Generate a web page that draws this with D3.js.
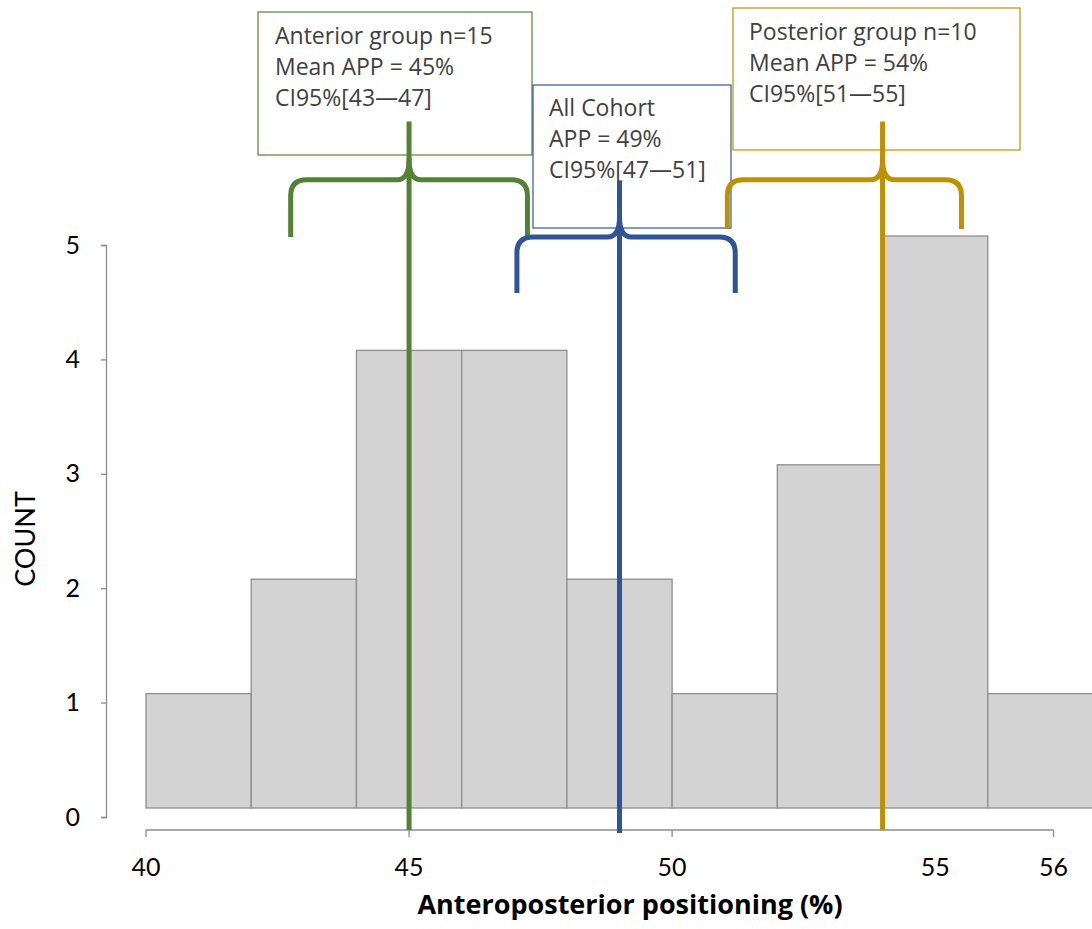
<!DOCTYPE html>
<html>
<head>
<meta charset="utf-8">
<script src="https://cdn.jsdelivr.net/npm/d3@7"></script>
<style>
    body { margin: 0; background: #fff; }
    svg { display: block; font-family: Lato, "Open Sans", sans-serif; }
</style>
</head>
<body>
<svg id="chart" width="1092" height="929"></svg>
<script>
/* --- Data --- */
const binStarts = [40, 42, 44, 46, 48, 50, 52, 54, 56];
const binWidth = 2;
const counts = [1, 2, 4, 4, 2, 1, 3, 5, 1];

const xTickValues = [40, 45, 50, 55, 57.25];
const xTickLabels = ['40', '45', '50', '55', '56'];
const xTickMarks = [40, 45, 50, 57.25];
const yTickValues = [0, 1, 2, 3, 4, 5];

const groupNames = ['anterior', 'cohort', 'posterior'];
const groupMeans = [45, 49, 54];
const braceLo = [42.75, 47.05, 51.05];
const braceHi = [47.25, 51.2, 55.5];
const braceTop = [5.57, 5.07, 5.57];
const braceEnd = [5.07, 4.58, 5.14];
const lineTop = [6.08, 5.56, 6.08];
const boxLines = [
    ['Anterior group n=15', 'Mean APP = 45%', 'CI95%[43\u201447]'],
    ['All Cohort', 'APP = 49%', 'CI95%[47\u201451]'],
    ['Posterior group n=10', 'Mean APP = 54%', 'CI95%[51\u201455]']
];

const COLORS = {
    anterior: '#548235',
    cohort: '#2f5597',
    posterior: '#bf9000',
    bar: '#d3d3d3',
    barStroke: '#8e8e8e',
    axis: '#8c8c8c',
    text: '#000',
    boxText: '#404040'
};

// box geometry (layout only)
const BOXES = [
    { x: 258, y: 12, w: 274, h: 143, tx: 275, ty: 44 },
    { x: 533, y: 85, w: 198, h: 143, tx: 549, ty: 116 },
    { x: 733, y: 8, w: 287, h: 142, tx: 749, ty: 40 }
];

/* --- Scales --- */
const svg = d3.select('#chart');
const x = d3.scaleLinear().domain([40, 58]).range([146, 1093]);
const y = d3.scaleLinear().domain([0, 5]).range([817, 245]);
const axisY = 830;

/* --- Bars (drawn slightly above the zero tick, as in the original) --- */
svg.append('g')
    .attr('transform', 'translate(0,-9)')
    .selectAll('rect')
    .data(binStarts)
    .enter().append('rect')
    .attr('x', d => x(d))
    .attr('width', d => x(d + binWidth) - x(d))
    .attr('y', (d, i) => y(counts[i]))
    .attr('height', (d, i) => y(0) - y(counts[i]))
    .attr('fill', COLORS.bar)
    .attr('stroke', COLORS.barStroke)
    .attr('stroke-width', 1.3);

/* --- Y axis --- */
const yAxis = svg.append('g')
    .attr('transform', 'translate(106,0)')
    .call(d3.axisLeft(y)
        .tickValues(yTickValues)
        .tickFormat(d3.format('d'))
        .tickSize(5).tickSizeOuter(5).tickPadding(21));
yAxis.selectAll('path, line').attr('stroke', COLORS.axis).attr('stroke-width', 1.3);
yAxis.selectAll('text')
    .attr('font-size', 25)
    .attr('font-family', 'Lato, sans-serif')
    .attr('fill', COLORS.text);

svg.append('text')
    .attr('transform', 'translate(35,539) rotate(-90)')
    .attr('text-anchor', 'middle')
    .attr('font-size', 27)
    .attr('font-family', 'Lato, sans-serif')
    .attr('fill', COLORS.text)
    .text('COUNT');

/* --- X axis --- */
const xAxis = svg.append('g')
    .attr('transform', `translate(0,${axisY})`);
xAxis.append('line')
    .attr('x1', x(40)).attr('x2', x(57.25))
    .attr('stroke', COLORS.axis).attr('stroke-width', 1.3);
xAxis.selectAll('.tick-mark')
    .data(xTickMarks)
    .enter().append('line')
    .attr('class', 'tick-mark')
    .attr('x1', d => x(d)).attr('x2', d => x(d))
    .attr('y1', 0).attr('y2', 7)
    .attr('stroke', COLORS.axis).attr('stroke-width', 1.3);
xAxis.selectAll('.tick-label')
    .data(xTickValues)
    .enter().append('text')
    .attr('class', 'tick-label')
    .attr('x', d => x(d))
    .attr('y', 46)
    .attr('text-anchor', 'middle')
    .attr('font-size', 25)
    .attr('font-family', 'Lato, sans-serif')
    .attr('fill', COLORS.text)
    .text((d, i) => xTickLabels[i]);

svg.append('text')
    .attr('x', 630)
    .attr('y', 914)
    .attr('text-anchor', 'middle')
    .attr('font-size', 27)
    .attr('font-family', '"Open Sans", sans-serif')
    .attr('font-weight', 'bold')
    .attr('fill', COLORS.text)
    .text('Anteroposterior positioning (%)');

/* --- Annotation boxes --- */
const boxOrder = [0, 2, 1];
boxOrder.forEach(i => {
    const b = BOXES[i];
    const g = svg.append('g');
    g.append('rect')
        .attr('x', b.x).attr('y', b.y)
        .attr('width', b.w).attr('height', b.h)
        .attr('fill', '#fff')
        .attr('stroke', COLORS[groupNames[i]])
        .attr('stroke-width', 1.2);
    g.selectAll('text')
        .data(boxLines[i])
        .enter().append('text')
        .attr('x', b.tx)
        .attr('y', (d, j) => b.ty + j * 31)
        .attr('font-size', 23)
        .attr('font-family', '"Open Sans", sans-serif')
        .attr('fill', COLORS.boxText)
        .text(d => d);
});

/* --- Mean lines and braces --- */
function bracePath(lo, mid, hi, top, end) {
    const x0 = x(lo), xm = x(mid), x1 = x(hi);
    const yt = y(top), ye = y(end);
    const r = 16, tip = 20;
    return `M${x0},${ye} L${x0},${yt + r} Q${x0},${yt} ${x0 + r},${yt}` +
        ` L${xm - 12},${yt} Q${xm},${yt} ${xm},${yt - tip}` +
        ` Q${xm},${yt} ${xm + 12},${yt}` +
        ` L${x1 - r},${yt} Q${x1},${yt} ${x1},${yt + r} L${x1},${ye}`;
}

groupNames.forEach((name, i) => {
    svg.append('path')
        .attr('d', bracePath(braceLo[i], groupMeans[i], braceHi[i], braceTop[i], braceEnd[i]))
        .attr('fill', 'none')
        .attr('stroke', COLORS[name])
        .attr('stroke-width', 5)
        .attr('stroke-linejoin', 'round');
    svg.append('line')
        .attr('x1', x(groupMeans[i])).attr('x2', x(groupMeans[i]))
        .attr('y1', y(lineTop[i])).attr('y2', axisY + (i === 1 ? 3 : 0))
        .attr('stroke', COLORS[name])
        .attr('stroke-width', 5);
});
</script>
</body>
</html>
